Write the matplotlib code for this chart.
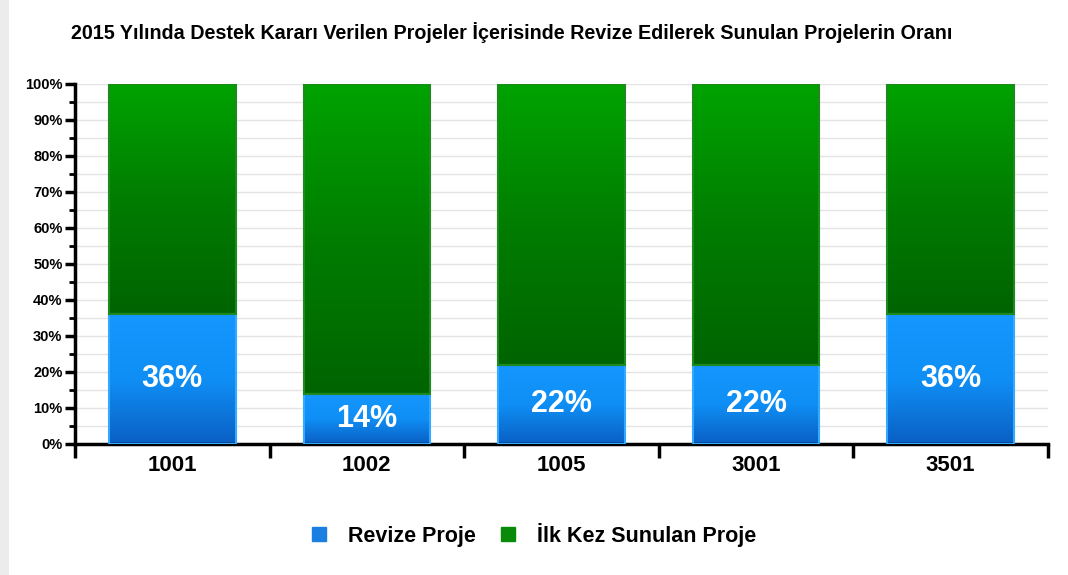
import matplotlib.pyplot as plt
import matplotlib.colors as mcolors
import numpy as np
from matplotlib.ticker import MultipleLocator, FuncFormatter

categories = ['1001', '1002', '1005', '3001', '3501']
revize = [36, 14, 22, 22, 36]
ilk_kez = [64, 86, 78, 78, 64]
labels = ['36%', '14%', '22%', '22%', '36%']

plt.rcParams['font.family'] = ['Liberation Sans', 'DejaVu Sans']

fig = plt.figure(figsize=(10.68, 5.75), dpi=100)
# light grey strip on the left edge, as in the screenshot
fig.patches.append(plt.Rectangle((0, 0), 0.008, 1, transform=fig.transFigure,
                                 facecolor='#ececec', edgecolor='none'))
ax = fig.add_axes([0.0702, 0.228, 0.911, 0.626])

x = np.arange(len(categories))
width = 0.65

blue_cmap = mcolors.LinearSegmentedColormap.from_list('b', ['#0a5fc4', '#0f8ff5', '#1497ff'])
green_cmap = mcolors.LinearSegmentedColormap.from_list('g', ['#006400', '#007d00', '#00a300'])

def gradient_bars(bars, cmap, edge):
    for b in bars:
        bx, by = b.get_x(), b.get_y()
        w, h = b.get_width(), b.get_height()
        grad = np.linspace(0, 1, 256).reshape(-1, 1)
        im = ax.imshow(grad, cmap=cmap, origin='lower', aspect='auto',
                       extent=[bx, bx + w, by, by + h], zorder=2)
        im.set_clip_path(b)
        b.set_facecolor('none')
        b.set_edgecolor(edge)
        b.set_linewidth(1.5)
        b.set_zorder(3)

b1 = ax.bar(x, revize, width, label='Revize Proje')
b2 = ax.bar(x, ilk_kez, width, bottom=revize, label='İlk Kez Sunulan Proje')
gradient_bars(b1, blue_cmap, '#33aaff')
gradient_bars(b2, green_cmap, '#1e8a1e')

for xi, v, lab in zip(x, revize, labels):
    ax.text(xi, v / 2, lab, ha='center', va='center', color='white',
            fontsize=22, fontweight='bold', zorder=4)

ax.set_xlim(-0.5, len(categories) - 0.5)
ax.set_ylim(0, 100)
ax.yaxis.set_major_locator(MultipleLocator(10))
ax.yaxis.set_minor_locator(MultipleLocator(5))
ax.yaxis.set_major_formatter(FuncFormatter(lambda v, p: f'{int(v)}%'))
ax.grid(axis='y', which='both', color='#e4e4e4', lw=1.0, zorder=0)
ax.set_axisbelow(True)

ax.set_xticks(x)
ax.set_xticklabels(categories, fontsize=16, fontweight='bold')
ax.set_xticks(np.arange(-0.5, len(categories)), minor=True)
ax.tick_params(axis='x', which='major', length=0, pad=8)
ax.tick_params(axis='x', which='minor', length=10, width=2.5, direction='out')
ax.tick_params(axis='y', which='major', length=7, width=2.5, labelsize=10.5, pad=2)
ax.tick_params(axis='y', which='minor', length=4, width=2)
for lab in ax.get_yticklabels():
    lab.set_fontweight('bold')

for s in ['top', 'right']:
    ax.spines[s].set_visible(False)
ax.spines['left'].set_linewidth(2.5)
ax.spines['bottom'].set_linewidth(2.5)

fig.text(0.479, 0.943, '2015 Yılında Destek Kararı Verilen Projeler İçerisinde Revize Edilerek Sunulan Projelerin Oranı',
         ha='center', va='center', fontsize=14.2, fontweight='bold')

handles = [plt.Rectangle((0, 0), 1, 1, facecolor='#1a7fe0', edgecolor='#1a7fe0'),
           plt.Rectangle((0, 0), 1, 1, facecolor='#0a8a0a', edgecolor='#0a8a0a')]
fig.legend(handles, ['Revize Proje', 'İlk Kez Sunulan Proje'], loc='center',
           bbox_to_anchor=(0.5, 0.07), ncol=2, frameon=False,
           prop={'size': 15.5, 'weight': 'bold'}, handlelength=0.65, handleheight=0.65,
           columnspacing=1.2, handletextpad=1.0)

fig.savefig('out.png', dpi=100, facecolor='white')
